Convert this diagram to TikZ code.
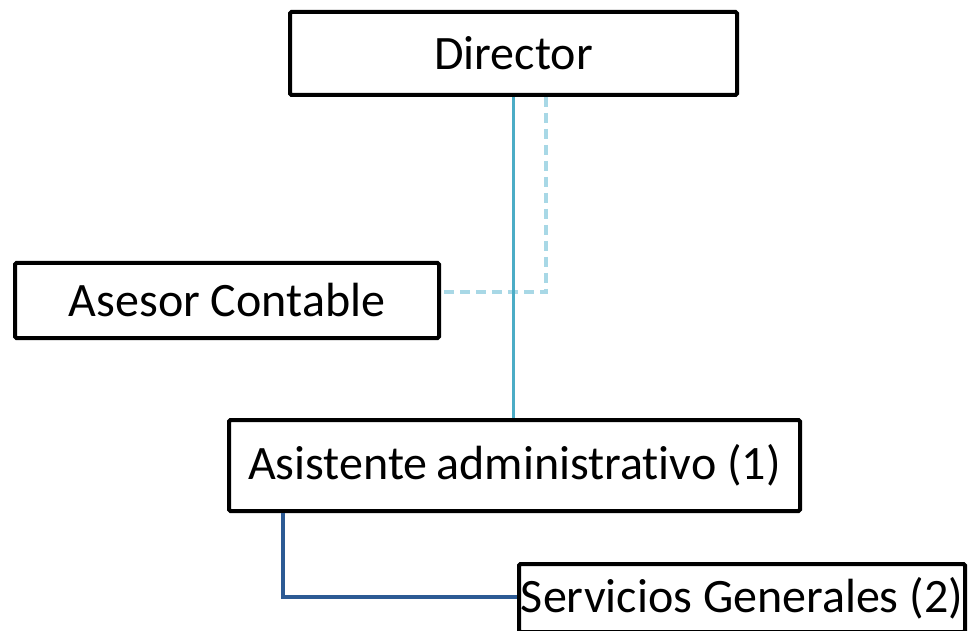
\documentclass[tikz,border=0pt]{standalone}
\usepackage{fontspec}
\setmainfont[Ligatures={NoCommon}]{Carlito}
\usetikzlibrary{calc}
\definecolor{solidblue}{HTML}{4BACC6}
\definecolor{lightblue}{HTML}{A8D8E6}
\definecolor{darkblue}{HTML}{2C5A94}
\begin{document}
\begin{tikzpicture}[x=1pt,y=-1pt,
  box/.style={draw=black,line width=4pt,rounded corners=1.5pt,inner sep=0pt,
    font=\fontsize{48}{56}\selectfont,text=black},
  solidc/.style={draw=solidblue,line width=3.6pt},
  dashc/.style={draw=lightblue,line width=4pt,dash pattern=on 10pt off 6pt},
  darkc/.style={draw=darkblue,line width=3.8pt}]
\useasboundingbox (0,0) rectangle (975,631);
\fill[white] (0,0) rectangle (975,631);
\node[box,minimum width=447pt,minimum height=83pt] (dir) at (513.5,53.5) {Director};
\node[box,minimum width=424pt,minimum height=75pt] (ase) at (227,300.5) {Asesor Contable};
\node[box,minimum width=571pt,minimum height=91pt] (asis) at (514.5,465.5) {Asistente\hspace{-2pt} administrativo (1)};
\node[box,minimum width=446pt,minimum height=68pt] (serv) at (742,598) {Servicios Generales (2)};
\coordinate (dd) at ($(dir.south)+(32.5,0)$);
\coordinate (de) at ($(ase.east)+(0,-8)$);
\draw[dashc] (dd) |- (de);
\draw[solidc] (dir.south) -- (dir.south |- asis.north);
\coordinate (ds) at ($(asis.south west)+(56,0)$);
\draw[darkc] (ds) |- ($(serv.west)+(0,-1)$);
\end{tikzpicture}
\end{document}
